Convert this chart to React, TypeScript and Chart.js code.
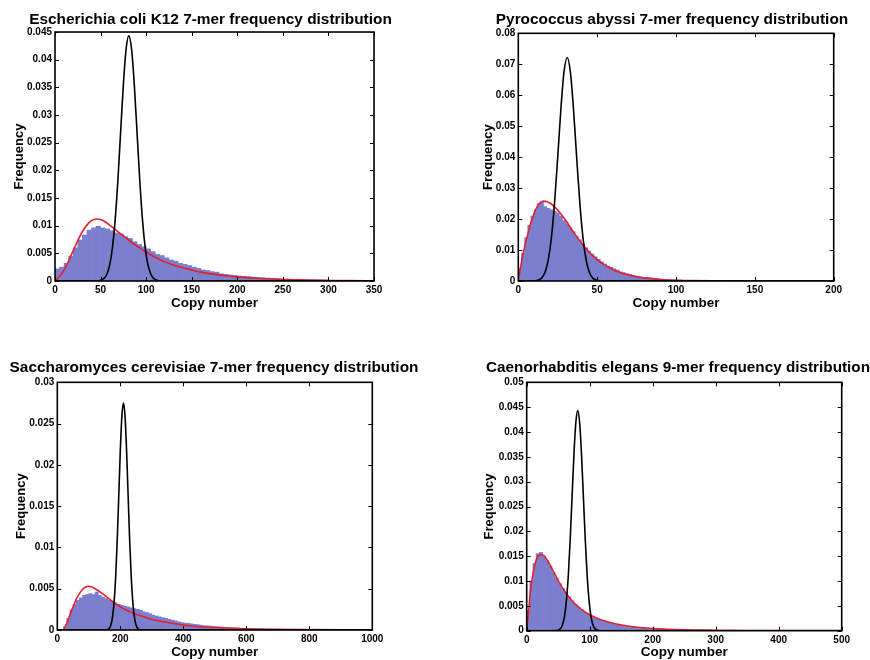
import React, { useEffect, useRef } from 'react';
import { Chart, registerables } from 'chart.js';

Chart.register(...registerables);

const FONT = '"Liberation Sans", Arial, Helvetica, sans-serif';
const BAR_COLOR = '#7b7fce';
const FIT_COLOR = '#e3202c';
const POISSON_COLOR = '#000000';

// ---------- Escherichia coli K12 (7-mer) ----------
const ecoliBinWidth = 5;
const ecoliHist = [
  0.0022, 0.0025, 0.0032, 0.0045, 0.006, 0.0074, 0.0083, 0.0092, 0.0096, 0.0099,
  0.0096, 0.0094, 0.0091, 0.0087, 0.0085, 0.008, 0.0077, 0.0071, 0.0066, 0.0062,
  0.0058, 0.0053, 0.0048, 0.0046, 0.0042, 0.0038, 0.0036, 0.0032, 0.003, 0.0028,
  0.0025, 0.0023, 0.002, 0.0019, 0.0017, 0.0016, 0.0013, 0.0012, 0.0011, 0.001,
  0.0009, 0.00085, 0.0008, 0.0007, 0.00065, 0.0006, 0.00055, 0.0005, 0.00045, 0.0004,
  0.00035, 0.00032, 0.0003, 0.00027, 0.00025, 0.00022, 0.0002, 0.00018, 0.00016, 0.00015,
  0.00013, 0.00012, 0.0001, 0.00009, 0.00008, 0.00007, 0.00006, 0.00005, 0.00004, 0.00003,
];
const ecoliFitX = [0, 5, 10, 15, 20, 25, 30, 35, 40, 45, 50, 55, 60, 70, 80, 90, 100, 110, 120, 130, 140, 150, 160, 175, 190, 200, 225, 250, 275, 300, 325, 350];
const ecoliFitY = [0, 0.0008, 0.002, 0.0036, 0.0055, 0.0073, 0.0089, 0.0101, 0.0109, 0.0112, 0.0111, 0.0107, 0.0101, 0.0088, 0.0075, 0.0063, 0.0052, 0.0043, 0.0035, 0.0029, 0.0024, 0.002, 0.0016, 0.0012, 0.0009, 0.00075, 0.00045, 0.00027, 0.00016, 0.0001, 0.00006, 0.00004];
const ecoliPoissonX = [0, 45, 51, 54, 57, 60, 63, 66, 69, 72, 75, 78, 81, 84, 87, 90, 93, 96, 99, 102, 105, 108, 111, 117, 350];
const ecoliPoissonY = [0, 0, 0.00017, 0.00049, 0.00127, 0.0029, 0.006, 0.011, 0.0182, 0.0269, 0.0355, 0.0419, 0.0443, 0.0419, 0.0355, 0.0269, 0.0182, 0.011, 0.006, 0.0029, 0.00127, 0.00049, 0.00017, 0, 0];

// ---------- Pyrococcus abyssi (7-mer) ----------
const pyroBinWidth = 2;
const pyroHist = [
  0.004, 0.009, 0.014, 0.018, 0.021, 0.023, 0.025, 0.0255, 0.024, 0.0235,
  0.023, 0.0225, 0.022, 0.021, 0.0195, 0.0185, 0.0172, 0.016, 0.0145, 0.0133,
  0.012, 0.0108, 0.0097, 0.0087, 0.0078, 0.007, 0.0062, 0.0055, 0.0048, 0.0044,
  0.0039, 0.0035, 0.003, 0.0027, 0.0024, 0.0021, 0.0018, 0.0016, 0.0014, 0.0012,
  0.0011, 0.001, 0.0009, 0.0008, 0.0007, 0.0006, 0.0005, 0.00045, 0.0004, 0.00035,
  0.0003, 0.00026, 0.00022, 0.0002, 0.00017, 0.00015, 0.00013, 0.00011, 0.0001, 0.00008,
  0.00007, 0.00006, 0.00005, 0.00004, 0.00003,
];
const pyroFitX = [0, 2, 4, 6, 8, 10, 12, 14, 16, 18, 20, 22, 25, 28, 30, 35, 40, 45, 50, 55, 60, 65, 70, 75, 80, 90, 100, 110, 125, 150, 200];
const pyroFitY = [0, 0.006, 0.011, 0.015, 0.0188, 0.0218, 0.024, 0.0253, 0.0258, 0.0257, 0.0252, 0.0244, 0.0229, 0.021, 0.0196, 0.0158, 0.0123, 0.0093, 0.0069, 0.0051, 0.0037, 0.0027, 0.0019, 0.0014, 0.001, 0.0005, 0.00025, 0.00012, 0.00005, 0.00001, 0];
const pyroPoissonX = [0, 9, 11, 13, 15, 17, 19, 21, 23, 25, 27, 29, 31, 33, 35, 37, 39, 41, 43, 45, 47, 49, 51, 53, 200];
const pyroPoissonY = [0, 0, 0.0001, 0.00035, 0.00108, 0.0029, 0.0068, 0.014, 0.0253, 0.04, 0.0555, 0.0676, 0.0722, 0.0676, 0.0555, 0.04, 0.0253, 0.014, 0.0068, 0.0029, 0.00108, 0.00035, 0.0001, 0, 0];

// ---------- Saccharomyces cerevisiae (7-mer) ----------
const yeastBinWidth = 10;
const yeastHist = [
  0, 0, 0.0004, 0.0014, 0.0024, 0.0031, 0.0036, 0.0039, 0.0042, 0.0043,
  0.0044, 0.0043, 0.0046, 0.0042, 0.004, 0.0038, 0.0036, 0.0035, 0.0033, 0.0031,
  0.003, 0.0029, 0.0028, 0.0027, 0.0026, 0.0025, 0.0024, 0.0022, 0.0021, 0.002,
  0.0018, 0.0017, 0.0016, 0.0015, 0.0014, 0.0013, 0.0012, 0.0011, 0.001, 0.0009,
  0.00085, 0.0008, 0.00075, 0.0007, 0.00065, 0.0006, 0.00055, 0.0005, 0.00046, 0.00042,
  0.0004, 0.00037, 0.00034, 0.00031, 0.00028, 0.00026, 0.00024, 0.00022, 0.0002, 0.00018,
  0.00017, 0.00016, 0.00015, 0.00014, 0.00013, 0.00012, 0.00011, 0.0001, 0.00009, 0.00009,
  0.00009, 0.00008, 0.00008, 0.00007, 0.00007, 0.00006, 0.00006, 0.00005, 0.00005, 0.00005,
  0.00004, 0.00004, 0.00004, 0.00003, 0.00003, 0.00003, 0.00003, 0.00002, 0.00002, 0.00002,
];
const yeastFitX = [0, 15, 20, 30, 40, 50, 60, 70, 80, 90, 100, 110, 120, 140, 160, 180, 200, 225, 250, 275, 300, 350, 400, 450, 500, 600, 700, 800, 900, 1000];
const yeastFitY = [0, 0, 0.0001, 0.0008, 0.0018, 0.0028, 0.0037, 0.0044, 0.0049, 0.0052, 0.0053, 0.0052, 0.005, 0.0045, 0.0039, 0.0033, 0.0028, 0.0023, 0.0019, 0.0016, 0.0013, 0.0009, 0.0006, 0.0004, 0.0003, 0.00015, 0.00008, 0.00005, 0.00003, 0.00002];
const yeastPoissonX = [0, 155, 165, 170, 175, 180, 185, 190, 195, 200, 205, 210, 215, 220, 225, 230, 235, 240, 245, 250, 255, 265, 1000];
const yeastPoissonY = [0, 0, 0.00022, 0.00061, 0.00149, 0.00323, 0.0062, 0.0106, 0.0161, 0.0217, 0.0259, 0.0275, 0.0259, 0.0217, 0.0161, 0.0106, 0.0062, 0.00323, 0.00149, 0.00061, 0.00022, 0, 0];

// ---------- Caenorhabditis elegans (9-mer) ----------
const wormBinWidth = 5;
const wormHist = [
  0.004, 0.01, 0.0135, 0.0155, 0.0158, 0.015, 0.0141, 0.013, 0.0118, 0.0106,
  0.0095, 0.0085, 0.0076, 0.0068, 0.006, 0.0053, 0.0047, 0.0042, 0.0037, 0.0033,
  0.0029, 0.0026, 0.0023, 0.0021, 0.0019, 0.0017, 0.0015, 0.0014, 0.0012, 0.0011,
  0.001, 0.0009, 0.0008, 0.00075, 0.0007, 0.00065, 0.0006, 0.00055, 0.0005, 0.00046,
  0.00042, 0.00038, 0.00035, 0.00032, 0.0003, 0.00027, 0.00025, 0.00023, 0.00021, 0.0002,
  0.00018, 0.00016, 0.00015, 0.00013, 0.00012, 0.00011, 0.0001, 0.00009, 0.00008, 0.00007,
];
const wormFitX = [0, 3, 6, 10, 15, 20, 25, 30, 35, 40, 45, 50, 60, 70, 80, 90, 100, 110, 120, 140, 160, 180, 200, 250, 300, 350, 400, 500];
const wormFitY = [0, 0.004, 0.008, 0.0115, 0.0142, 0.0152, 0.0153, 0.0147, 0.0137, 0.0125, 0.0113, 0.0101, 0.008, 0.0063, 0.005, 0.004, 0.0032, 0.0026, 0.0021, 0.0014, 0.00095, 0.00065, 0.00045, 0.0002, 0.0001, 0.00005, 0.00003, 0.00001];
const wormPoissonX = [0, 45, 51, 54, 57, 60, 63, 66, 69, 72, 75, 78, 81, 84, 87, 90, 93, 96, 99, 102, 105, 108, 111, 117, 500];
const wormPoissonY = [0, 0, 0.00017, 0.00049, 0.00127, 0.0029, 0.006, 0.011, 0.0182, 0.0269, 0.0355, 0.0419, 0.0443, 0.0419, 0.0355, 0.0269, 0.0182, 0.011, 0.006, 0.0029, 0.00127, 0.00049, 0.00017, 0, 0];

const titles = [
  'Escherichia coli K12 7-mer frequency distribution',
  'Pyrococcus abyssi 7-mer frequency distribution',
  'Saccharomyces cerevisiae 7-mer frequency distribution',
  'Caenorhabditis elegans 9-mer frequency distribution',
];

type Panel = {
  title: string;
  binWidth: number; hist: number[];
  fitX: number[]; fitY: number[];
  poiX: number[]; poiY: number[];
  xMax: number; xStep: number; yMax: number; yStep: number;
  left: number; top: number; w: number; h: number;
  padL: number; padR: number; padT: number; titleGap: number;
  yAxisW: number; rightW: number; xAxisH: number;
  xTitlePadB: number; yTitlePadT: number; xTickPad: number;
};

const panels: Panel[] = [
  {
    title: titles[0], binWidth: ecoliBinWidth, hist: ecoliHist,
    fitX: ecoliFitX, fitY: ecoliFitY, poiX: ecoliPoissonX, poiY: ecoliPoissonY,
    xMax: 350, xStep: 50, yMax: 0.045, yStep: 0.005,
    left: 0, top: 0, w: 435, h: 330,
    padL: 0, padR: 14, padT: 11, titleGap: 3,
    yAxisW: 55, rightW: 47, xAxisH: 49, xTitlePadB: 18.9, yTitlePadT: 11.7, xTickPad: 3,
  },
  {
    title: titles[1], binWidth: pyroBinWidth, hist: pyroHist,
    fitX: pyroFitX, fitY: pyroFitY, poiX: pyroPoissonX, poiY: pyroPoissonY,
    xMax: 200, xStep: 50, yMax: 0.08, yStep: 0.01,
    left: 435, top: 0, w: 435, h: 330,
    padL: 39, padR: 0, padT: 11, titleGap: 4.3,
    yAxisW: 44.3, rightW: 36.3, xAxisH: 49, xTitlePadB: 18.9, yTitlePadT: 6.2, xTickPad: 3,
  },
  {
    title: titles[2], binWidth: yeastBinWidth, hist: yeastHist,
    fitX: yeastFitX, fitY: yeastFitY, poiX: yeastPoissonX, poiY: yeastPoissonY,
    xMax: 1000, xStep: 200, yMax: 0.03, yStep: 0.005,
    left: 0, top: 330, w: 435, h: 330,
    padL: 0, padR: 7, padT: 29, titleGap: 5.3,
    yAxisW: 57.3, rightW: 55.7, xAxisH: 30, xTitlePadB: -0.8, yTitlePadT: 13.2, xTickPad: 3.5,
  },
  {
    title: titles[3], binWidth: wormBinWidth, hist: wormHist,
    fitX: wormFitX, fitY: wormFitY, poiX: wormPoissonX, poiY: wormPoissonY,
    xMax: 500, xStep: 100, yMax: 0.05, yStep: 0.005,
    left: 435, top: 330, w: 435, h: 330,
    padL: 51, padR: 0, padT: 29, titleGap: 5.3,
    yAxisW: 40.7, rightW: 28.3, xAxisH: 29.3, xTitlePadB: -0.8, yTitlePadT: -4.8, xTickPad: 3.5,
  },
];

const framePlugin = {
  id: 'matlabFrame',
  afterDatasetsDraw(chart: any) {
    const { ctx, chartArea } = chart;
    const { left, right, top, bottom } = chartArea;
    const xs = chart.scales.x;
    const ys = chart.scales.y;
    ctx.save();
    ctx.strokeStyle = '#000';
    ctx.lineWidth = 1;
    const t = 4;
    ctx.beginPath();
    xs.ticks.forEach((tk: any) => {
      const px = Math.round(xs.getPixelForValue(tk.value)) + 0.5;
      ctx.moveTo(px, bottom); ctx.lineTo(px, bottom - t);
      ctx.moveTo(px, top); ctx.lineTo(px, top + t);
    });
    ys.ticks.forEach((tk: any) => {
      const py = Math.round(ys.getPixelForValue(tk.value)) + 0.5;
      ctx.moveTo(left, py); ctx.lineTo(left + t, py);
      ctx.moveTo(right, py); ctx.lineTo(right - t, py);
    });
    ctx.stroke();
    ctx.lineWidth = 1.6;
    ctx.strokeRect(left, top, right - left, bottom - top);
    ctx.restore();
  },
};

function fmt(v: number): string {
  return String(Number(Number(v).toFixed(4)));
}

function buildConfig(p: Panel): any {
  const bars = p.hist.map((v, i) => ({ x: (i + 0.5) * p.binWidth, y: v }));
  const fit = p.fitX.map((x, i) => ({ x, y: p.fitY[i] }));
  const poi = p.poiX.map((x, i) => ({ x, y: p.poiY[i] }));
  const tickFont = { family: FONT, size: 10, weight: 'bold' as const };
  return {
    type: 'bar',
    data: {
      datasets: [
        {
          type: 'line', label: 'Poisson', data: poi, borderColor: POISSON_COLOR, borderWidth: 1.6,
          pointRadius: 0, cubicInterpolationMode: 'monotone', order: 1, fill: false,
        },
        {
          type: 'line', label: 'Fit', data: fit, borderColor: FIT_COLOR, borderWidth: 1.6,
          pointRadius: 0, cubicInterpolationMode: 'monotone', order: 2, fill: false,
        },
        {
          type: 'bar', label: 'Observed', data: bars, backgroundColor: BAR_COLOR, borderWidth: 0,
          barPercentage: 1, categoryPercentage: 1, order: 3,
        },
      ],
    },
    options: {
      responsive: false,
      animation: false,
      events: [],
      layout: { padding: { left: p.padL, right: p.padR, top: p.padT, bottom: 0 } },
      plugins: {
        legend: { display: false },
        tooltip: { enabled: false },
        title: {
          display: true, text: p.title, color: '#000', align: 'center',
          font: { family: FONT, size: 15.4, weight: 'bold', lineHeight: 1.17 },
          padding: { top: 0, bottom: p.titleGap },
        },
      },
      scales: {
        x: {
          type: 'linear', position: 'bottom', min: 0, max: p.xMax, offset: false,
          grid: { display: false, drawTicks: false }, border: { display: false },
          ticks: { stepSize: p.xStep, padding: p.xTickPad, color: '#000', font: tickFont, maxRotation: 0, autoSkip: false, callback: (v: any) => fmt(v) },
          title: {
            display: true, text: 'Copy number', color: '#000',
            font: { family: FONT, size: 13.5, weight: 'bold', lineHeight: 1.2 },
            padding: { top: 0, bottom: p.xTitlePadB },
          },
          afterFit: (s: any) => { s.height = p.xAxisH; },
        },
        y: {
          type: 'linear', position: 'left', min: 0, max: p.yMax,
          grid: { display: false, drawTicks: false }, border: { display: false },
          ticks: { stepSize: p.yStep, padding: 3, color: '#000', font: tickFont, callback: (v: any) => fmt(v), autoSkip: false },
          title: {
            display: true, text: 'Frequency', color: '#000',
            font: { family: FONT, size: 13, weight: 'bold', lineHeight: 1.2 },
            padding: { top: p.yTitlePadT, bottom: 0 },
          },
          afterFit: (s: any) => { s.width = p.yAxisW; },
        },
        yR: {
          type: 'linear', position: 'right', display: true,
          grid: { display: false, drawTicks: false }, border: { display: false },
          ticks: { display: false },
          afterFit: (s: any) => { s.width = p.rightW; },
        },
      },
    },
    plugins: [framePlugin],
  };
}

function PanelChart({ p }: { p: Panel }) {
  const ref = useRef<HTMLCanvasElement | null>(null);
  useEffect(() => {
    if (!ref.current) return;
    const chart = new Chart(ref.current, buildConfig(p));
    return () => chart.destroy();
  }, [p]);
  return (
    <canvas
      ref={ref}
      width={p.w}
      height={p.h}
      style={{ position: 'absolute', left: p.left, top: p.top, width: p.w, height: p.h }}
    />
  );
}

export default function App() {
  return (
    <div style={{ position: 'absolute', left: 0, top: 0, width: 870, height: 660, background: '#fff', overflow: 'hidden' }}>
      {panels.map((p, i) => (
        <PanelChart key={i} p={p} />
      ))}
    </div>
  );
}
